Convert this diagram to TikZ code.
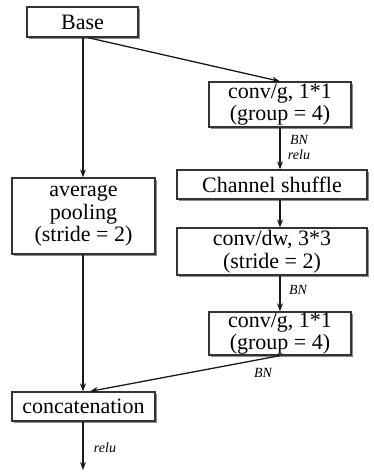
\documentclass[tikz,border=0pt]{standalone}
\usepackage{fontspec}
\setmainfont{Liberation Serif}
\usetikzlibrary{arrows.meta,shadows}
\begin{document}
\begin{tikzpicture}[x=1pt,y=-1pt,
  box/.style={draw=black!80,line width=1.3pt,fill=white,inner sep=0pt,align=center,
    font=\fontsize{22}{22.5}\selectfont,
    drop shadow={shadow xshift=1.8pt,shadow yshift=-1.8pt,fill=black!45,opacity=1}},
  conn/.style={line width=1.3pt,draw=black!90},
  arr/.style={conn,-{Stealth[length=8pt,width=6pt]}},
  lab/.style={font=\fontsize{14}{14.5}\selectfont\itshape,inner sep=0pt,align=center}]
\useasboundingbox (0,0) rectangle (374,473);
\node[box,minimum width=111pt,minimum height=30pt] (base) at (82.5,22) {Base};
\node[box,minimum width=142pt,minimum height=45pt] (cg1) at (280,104.5) {conv/g, 1*1\\(group = 4)};
\node[box,minimum width=143pt,minimum height=76pt] (avg) at (83.5,216) {average\\pooling\\(stride = 2)};
\node[box,minimum width=190pt,minimum height=29pt] (cs) at (272,184.5) {Channel shuffle};
\node[box,minimum width=190pt,minimum height=47pt] (dw) at (272,251.5) {conv/dw, 3*3\\(stride = 2)};
\node[box,minimum width=142pt,minimum height=43pt] (cg2) at (280,333.5) {conv/g, 1*1\\(group = 4)};
\node[box,minimum width=143pt,minimum height=29pt] (cat) at (83.5,406.5) {concatenation};
\coordinate (out) at (83,470);
\draw[arr] (base.south -| 88,0) -- (cg1.north);
\draw[arr] (base.south -| 83,0) -- (avg.north -| 83,0);
\draw[arr] (cg1.south) -- (cs.north -| cg1.south);
\draw[arr] (cs.south -| cg1.south) -- (dw.north -| cg1.south);
\draw[arr] (dw.south -| cg1.south) -- (cg2.north);
\draw[arr] (avg.south -| 83,0) -- (cat.north -| 83,0);
\draw[arr] (cg2.south) -- (cat.north -| 90,0);
\draw[arr] (cat.south -| 83,0) -- (out);
\node[lab] at (299,147.5) {BN\\relu};
\node[lab] at (298,290) {BN};
\node[lab] at (263,373) {BN};
\node[lab] at (105,448) {relu};
\end{tikzpicture}
\end{document}
